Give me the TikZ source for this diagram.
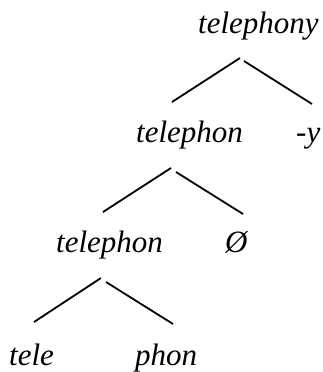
\documentclass[tikz,border=0pt]{standalone}
\usepackage{fontspec}
\setmainfont{Liberation Serif}
\begin{document}
\begin{tikzpicture}[x=1pt,y=-1pt,
  word/.style={anchor=base west,inner sep=0pt,font=\fontsize{31}{36}\selectfont\itshape},
  branch/.style={line width=1.8pt}]
\useasboundingbox (0,0) rectangle (322,372);
% words
\node[word] (w1) at (198,33) {telephony};
\node[word] (w2) at (136,142) {telephon};
\node[word] (w3) at (296,142) {-y};
\node[word] (w4) at (56,252) {telephon};
\node[word] (w5) at (225,252) {Ø};
\node[word] (w6) at (9,365) {tele};
\node[word] (w7) at (135,365) {phon};
% branch ends
\coordinate (a1) at (240,58);  \coordinate (a2) at (172,102);
\coordinate (b1) at (244,61);  \coordinate (b2) at (312,104);
\coordinate (c1) at (171,168); \coordinate (c2) at (103,212);
\coordinate (d1) at (176,172); \coordinate (d2) at (243,214);
\coordinate (e1) at (101,278); \coordinate (e2) at (34,322);
\coordinate (f1) at (106,282); \coordinate (f2) at (173,324);
\draw[branch] (a1) -- (a2);
\draw[branch] (b1) -- (b2);
\draw[branch] (c1) -- (c2);
\draw[branch] (d1) -- (d2);
\draw[branch] (e1) -- (e2);
\draw[branch] (f1) -- (f2);
\end{tikzpicture}
\end{document}
